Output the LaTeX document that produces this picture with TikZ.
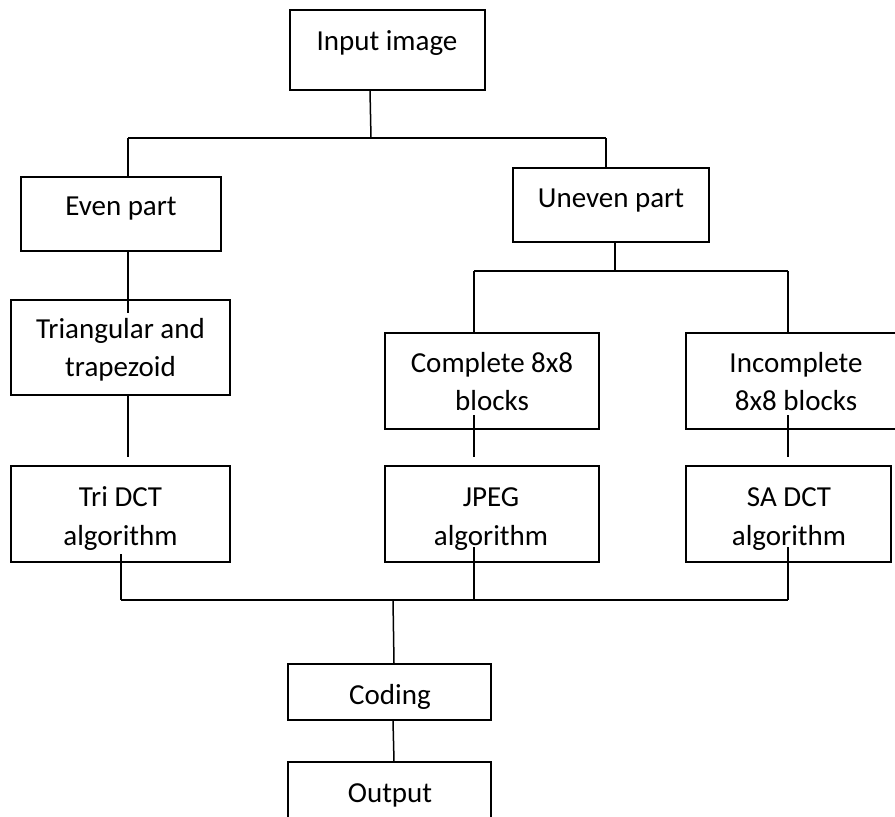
\documentclass[tikz,border=0pt]{standalone}
\usepackage{fontspec}
\setmainfont{Carlito}
\begin{document}
\begin{tikzpicture}[x=1pt,y=-1pt,
  box/.style={draw=black,line width=1.6pt,rectangle,inner sep=0pt},
  txt/.style={anchor=base,inner sep=0pt,font=\fontsize{29}{38}\selectfont},
  conn/.style={draw=black,line width=1.5pt}]
\useasboundingbox (0,0) rectangle (895,817);
% boxes
\node[box,minimum width=195pt,minimum height=80pt] (in) at (387.5,50) {};
\node[box,minimum width=200pt,minimum height=74pt] (even) at (121,214) {};
\node[box,minimum width=196pt,minimum height=74pt] (uneven) at (611,205) {};
\node[box,minimum width=219pt,minimum height=95pt] (tri) at (120.5,347.5) {};
\node[box,minimum width=214pt,minimum height=96pt] (comp) at (492,381) {};
\node[box,minimum width=224pt,minimum height=96pt] (incomp) at (798,381) {};
\node[box,minimum width=219pt,minimum height=96pt] (tdct) at (120.5,514) {};
\node[box,minimum width=214pt,minimum height=96pt] (jpeg) at (492,514) {};
\node[box,minimum width=205pt,minimum height=96pt] (sadct) at (788.5,514) {};
\node[box,minimum width=203pt,minimum height=56pt] (coding) at (389.5,692) {};
\node[box,minimum width=203pt,minimum height=78pt] (output) at (389.5,801) {};
% texts
\node[txt] (tin) at (387,50) {Input image};
\node[txt] (teven) at (121,215) {Even part};
\node[txt] (tuneven) at (611,207) {Uneven part};
\node[txt] (ttri1) at (120.5,338) {Triangular and};
\node[txt] (ttri2) at (120.5,376) {trapezoid};
\node[txt] (tcomp1) at (492,372) {Complete 8x8};
\node[txt] (tcomp2) at (492,410) {blocks};
\node[txt] (tinc1) at (796,372) {Incomplete};
\node[txt] (tinc2) at (796,410) {8x8 blocks};
\node[txt] (ttd1) at (120.5,506) {Tri DCT};
\node[txt] (ttd2) at (120.5,545) {algorithm};
\node[txt] (tjp1) at (491,506) {JPEG};
\node[txt] (tjp2) at (491,545) {algorithm};
\node[txt] (tsa1) at (789,506) {SA DCT};
\node[txt] (tsa2) at (789,545) {algorithm};
\node[txt] (tcod) at (390,704) {Coding};
\node[txt] (tout) at (390,802) {Output};
% junction coordinates
\coordinate (j1) at (371,138);
\coordinate (j1l) at (128,138);
\coordinate (j1r) at (606,138);
\coordinate (j2) at (615,271);
\coordinate (j2l) at (474,271);
\coordinate (j2r) at (788,271);
\coordinate (evenin) at (128,313);
\coordinate (trib) at (128,457);
\coordinate (compin) at (474,415);
\coordinate (compb) at (474,457);
\coordinate (incin) at (788,415);
\coordinate (incb) at (788,457);
\coordinate (tdin) at (121,554);
\coordinate (jpin) at (474,547);
\coordinate (sain) at (788,547);
\coordinate (j3l) at (121,600);
\coordinate (j3m) at (474,600);
\coordinate (j3r) at (788,600);
\coordinate (j3c) at (393,600);
% connectors
\draw[conn] (in.south -| 370,0) -- (j1);
\draw[conn] (j1l) -- (j1r);
\draw[conn] (j1l) -- (even.north -| j1l);
\draw[conn] (j1r) -- (uneven.north -| j1r);
\draw[conn] (uneven.south -| j2) -- (j2);
\draw[conn] (j2l) -- (j2r);
\draw[conn] (j2l) -- (comp.north -| j2l);
\draw[conn] (j2r) -- (incomp.north -| j2r);
\draw[conn] (even.south -| evenin) -- (evenin);
\draw[conn] (tri.south -| trib) -- (trib);
\draw[conn] (compin) -- (compb);
\draw[conn] (incin) -- (incb);
\draw[conn] (tdin) -- (j3l);
\draw[conn] (jpin) -- (j3m);
\draw[conn] (sain) -- (j3r);
\draw[conn] (j3l) -- (j3r);
\draw[conn] (j3c) -- (coding.north -| 394,0);
\draw[conn] (coding.south -| 393,0) -- (output.north -| 394,0);
\end{tikzpicture}
\end{document}
